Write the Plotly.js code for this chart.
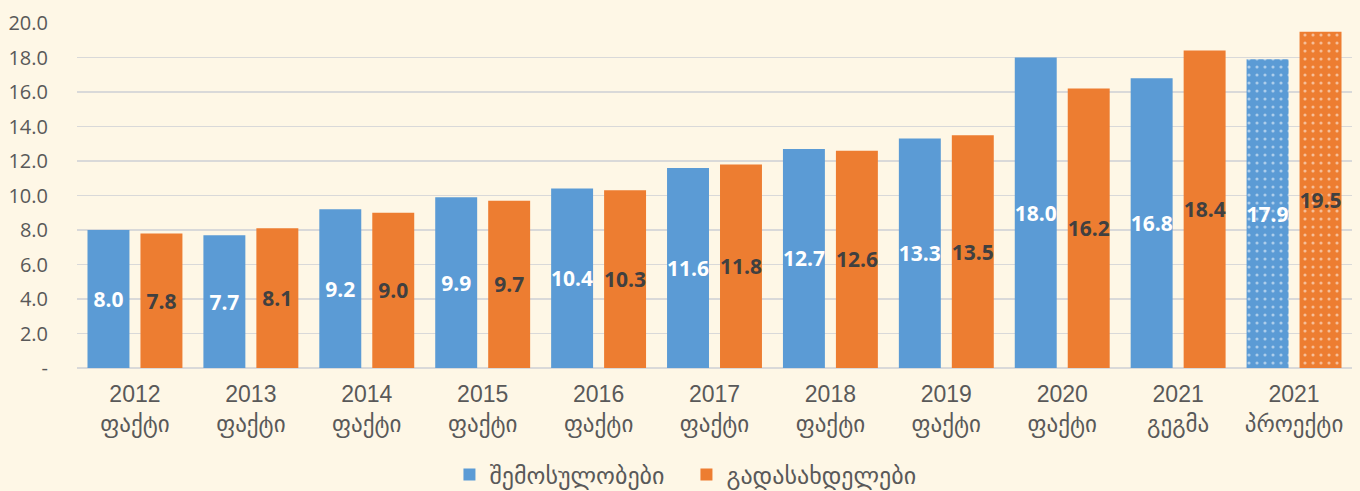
<!DOCTYPE html>
<html>
<head>
<meta charset="utf-8">
<script src="https://cdn.plot.ly/plotly-3.0.1.min.js"></script>
<style>html,body{margin:0;padding:0;background:#FEF7E6;}#chart{width:1360px;height:491px;}</style>
</head>
<body>
<div id="chart"></div>
<script>
const categories = ["2012<br>ფაქტი","2013<br>ფაქტი","2014<br>ფაქტი","2015<br>ფაქტი","2016<br>ფაქტი","2017<br>ფაქტი","2018<br>ფაქტი","2019<br>ფაქტი","2020<br>ფაქტი","2021<br>გეგმა","2021<br>პროექტი"];
const revenues = [8.0, 7.7, 9.2, 9.9, 10.4, 11.6, 12.7, 13.3, 18.0, 16.8, 17.9];
const payments = [7.8, 8.1, 9.0, 9.7, 10.3, 11.8, 12.6, 13.5, 16.2, 18.4, 19.5];
const seriesNames = ["შემოსულობები", "გადასახდელები"];
const patternShapes = ["","","","","","","","","","","."];
const yTickVals = [0, 2, 4, 6, 8, 10, 12, 14, 16, 18, 20];
const yTickText = ["-", "2.0", "4.0", "6.0", "8.0", "10.0", "12.0", "14.0", "16.0", "18.0", "20.0"];

const labelFont = "Open Sans, DejaVu Sans, sans-serif";
function makeTrace(name, vals, color, textColor) {
  return {
    type: "bar", name: name, x: categories, y: vals,
    marker: {color: color, line: {width: 0},
      pattern: {shape: patternShapes, fillmode: "overlay", fgcolor: "#ffffff", size: 8, solidity: 0.12}},
    texttemplate: "%{y:.1f}", textposition: "inside", insidetextanchor: "middle",
    textangle: 0, constraintext: "none",
    textfont: {family: labelFont, size: 21, color: textColor, weight: "bold"},
    hoverinfo: "skip"
  };
}
const data = [
  makeTrace(seriesNames[0], revenues, "#5B9BD5", "#ffffff"),
  makeTrace(seriesNames[1], payments, "#ED7D31", "#404040")
];
const layout = {
  width: 1360, height: 491,
  paper_bgcolor: "#FEF7E6", plot_bgcolor: "#FEF7E6",
  margin: {l: 77, r: 8, t: 23, b: 123, autoexpand: false},
  barmode: "group", bargap: 0.086, bargroupgap: 0.208,
  showlegend: true,
  legend: {orientation: "h", x: 0.478, xanchor: "center", y: -0.31, yanchor: "middle",
    itemwidth: 30, tracegroupgap: 0, entrywidth: 192, entrywidthmode: "pixels",
    font: {family: "DejaVu Sans, sans-serif", size: 24, color: "#595959"}, bgcolor: "rgba(0,0,0,0)"},
  xaxis: {type: "category", automargin: false, tickfont: {family: "Liberation Sans, DejaVu Sans, sans-serif", size: 23, color: "#595959"},
    showgrid: false, showline: false, ticks: "", ticklabelstandoff: 10, fixedrange: true},
  yaxis: {range: [0, 20], automargin: false, tickvals: yTickVals, ticktext: yTickText,
    tickfont: {family: labelFont, size: 20, color: "#595959"},
    showgrid: true, gridcolor: "#D9D9D9", gridwidth: 1.5,
    zeroline: true, zerolinecolor: "#D9D9D9", zerolinewidth: 1.5,
    showline: false, ticks: "", ticklabelstandoff: 28, fixedrange: true},
  font: {family: labelFont}
};
Plotly.newPlot("chart", data, layout, {displayModeBar: false, staticPlot: true});
</script>
</body>
</html>
